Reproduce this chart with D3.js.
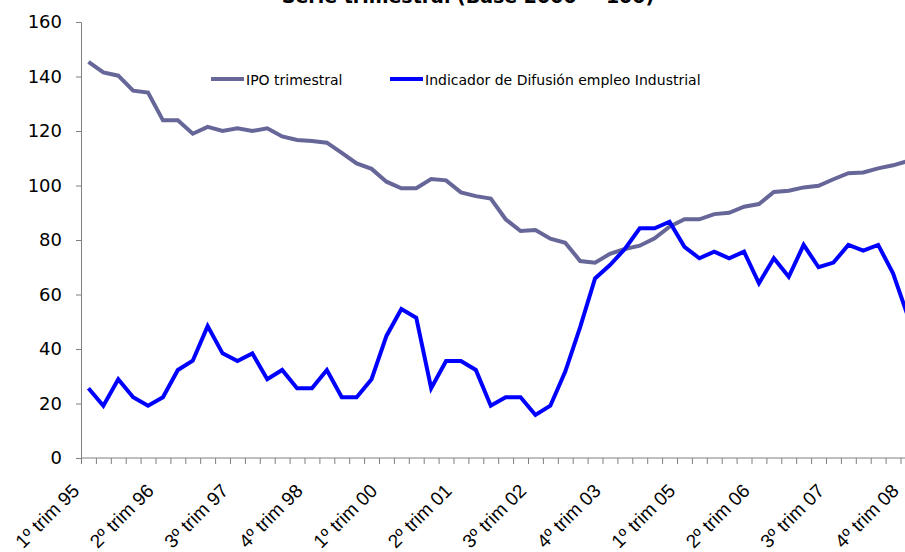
<!DOCTYPE html>
<html>
<head>
<meta charset="utf-8">
<script src="https://cdn.jsdelivr.net/npm/d3@7"></script>
<style>
  body { margin: 0; background: #fff; }
  svg { display: block; }
</style>
</head>
<body>
<div id="chart"></div>
<script>
// trimestres 1995 - 2008
var years = ["95","96","97","98","99","00","01","02","03","04","05","06","07","08"];
var quarterNames = ["1º","2º","3º","4º"];
var categories = [];
years.forEach(function (yr) {
    quarterNames.forEach(function (q) { categories.push(q + " trim " + yr); });
});

var ipo = [145.4,141.5,140.3,134.8,134.1,123.9,123.9,119.0,121.5,120.0,121.0,120.0,121.0,118.0,
           116.7,116.3,115.7,112.0,108.1,106.1,101.4,99.0,99.0,102.4,101.9,97.5,96.1,95.2,
           87.6,83.3,83.7,80.5,79.0,72.3,71.7,74.9,76.7,77.9,80.6,84.9,87.6,87.6,89.5,90.0,
           92.2,93.2,97.6,98.1,99.3,99.9,102.3,104.5,104.8,106.3,107.4,109.0];

var difusion = [25.6,19.2,28.9,22.3,19.2,22.3,32.3,35.7,48.4,38.4,35.6,38.4,28.9,32.3,
                25.6,25.6,32.3,22.3,22.3,28.9,44.8,54.7,51.5,25.6,35.6,35.6,32.3,19.2,
                22.3,22.3,15.8,19.2,31.7,48.0,65.9,70.8,76.7,84.3,84.3,86.7,77.5,73.3,
                75.7,73.3,75.7,64.1,73.3,66.5,78.2,70.0,71.7,78.2,76.1,78.2,67.8,52.0];

var yTicks = [0, 20, 40, 60, 80, 100, 120, 140, 160];

var seriesInfo = [
    {name: "IPO trimestral", values: ipo, color: "#666699"},
    {name: "Indicador de Difusión empleo Industrial", values: difusion, color: "#0000ff"}
];

function drawChart() {
    var W = 905, H = 552;
    var plotLeft = 81, plotTop = 22, plotBottom = 458;
    var step = 14.9;                       // ancho de cada trimestre
    var plotRight = plotLeft + categories.length * step;   // el original queda cortado a la derecha

    var svg = d3.select("#chart").append("svg")
        .attr("width", W)
        .attr("height", H);

    var x = d3.scaleBand().domain(d3.range(categories.length)).range([plotLeft, plotRight]);
    var xEdges = d3.scaleLinear().domain([0, categories.length]).range([plotLeft, plotRight]);
    var y = d3.scaleLinear().domain([0, 160]).range([plotBottom, plotTop]);

    // titulo (cortado arriba en la imagen original)
    svg.append("text")
        .attr("x", 468)
        .attr("y", 3)
        .attr("text-anchor", "middle")
        .style("font-family", "DejaVu Sans")
        .style("font-weight", "bold")
        .style("font-size", "19px")
        .text("Serie trimestral (Base 2000 = 100)");

    // eje y
    var yAxis = d3.axisLeft(y).tickValues(yTicks).tickSize(5).tickPadding(14);
    var gy = svg.append("g")
        .attr("transform", "translate(" + plotLeft + ",0)")
        .call(yAxis);
    gy.select(".domain").attr("stroke", "#808080");
    gy.selectAll(".tick line").attr("stroke", "#808080");
    gy.selectAll("text")
        .style("font-family", "DejaVu Sans")
        .style("font-size", "18px")
        .attr("fill", "#000");

    // eje x: marcas entre trimestres
    var xAxis = d3.axisBottom(xEdges).tickValues(d3.range(categories.length + 1)).tickSize(6).tickFormat("");
    var gx = svg.append("g")
        .attr("transform", "translate(0," + plotBottom + ")")
        .call(xAxis);
    gx.select(".domain").attr("stroke", "#808080").attr("d", "M" + plotLeft + ",0H" + plotRight);
    gx.selectAll(".tick line").attr("stroke", "#808080");

    // etiquetas cada 5 trimestres
    var labelIdx = d3.range(0, categories.length, 5);
    svg.append("g").selectAll("text")
        .data(labelIdx)
        .enter().append("text")
        .attr("transform", function (i) {
            return "translate(" + (x(i) + x.bandwidth() / 2 - 8) + "," + (plotBottom + 34) + ") rotate(-45)";
        })
        .attr("text-anchor", "end")
        .style("font-family", "Liberation Sans, Arial")
        .style("font-size", "19px")
        .text(function (i) { return categories[i]; });

    // lineas
    var line = d3.line()
        .x(function (d, i) { return x(i) + x.bandwidth() / 2; })
        .y(function (d) { return y(d); });

    seriesInfo.forEach(function (s) {
        svg.append("path")
            .datum(s.values)
            .attr("fill", "none")
            .attr("stroke", s.color)
            .attr("stroke-width", 4)
            .attr("stroke-linejoin", "miter")
            .attr("d", line);
    });

    // leyenda
    var legendX = [211, 390];
    var legend = svg.append("g");
    seriesInfo.forEach(function (s, i) {
        var g = legend.append("g").attr("transform", "translate(" + legendX[i] + ",79)");
        g.append("line")
            .attr("x1", 0).attr("x2", 33)
            .attr("stroke", s.color)
            .attr("stroke-width", 4);
        g.append("text")
            .attr("x", 35)
            .attr("y", 6)
            .style("font-family", "DejaVu Sans")
            .style("font-size", "14px")
            .text(s.name);
    });
}

drawChart();
</script>
</body>
</html>
